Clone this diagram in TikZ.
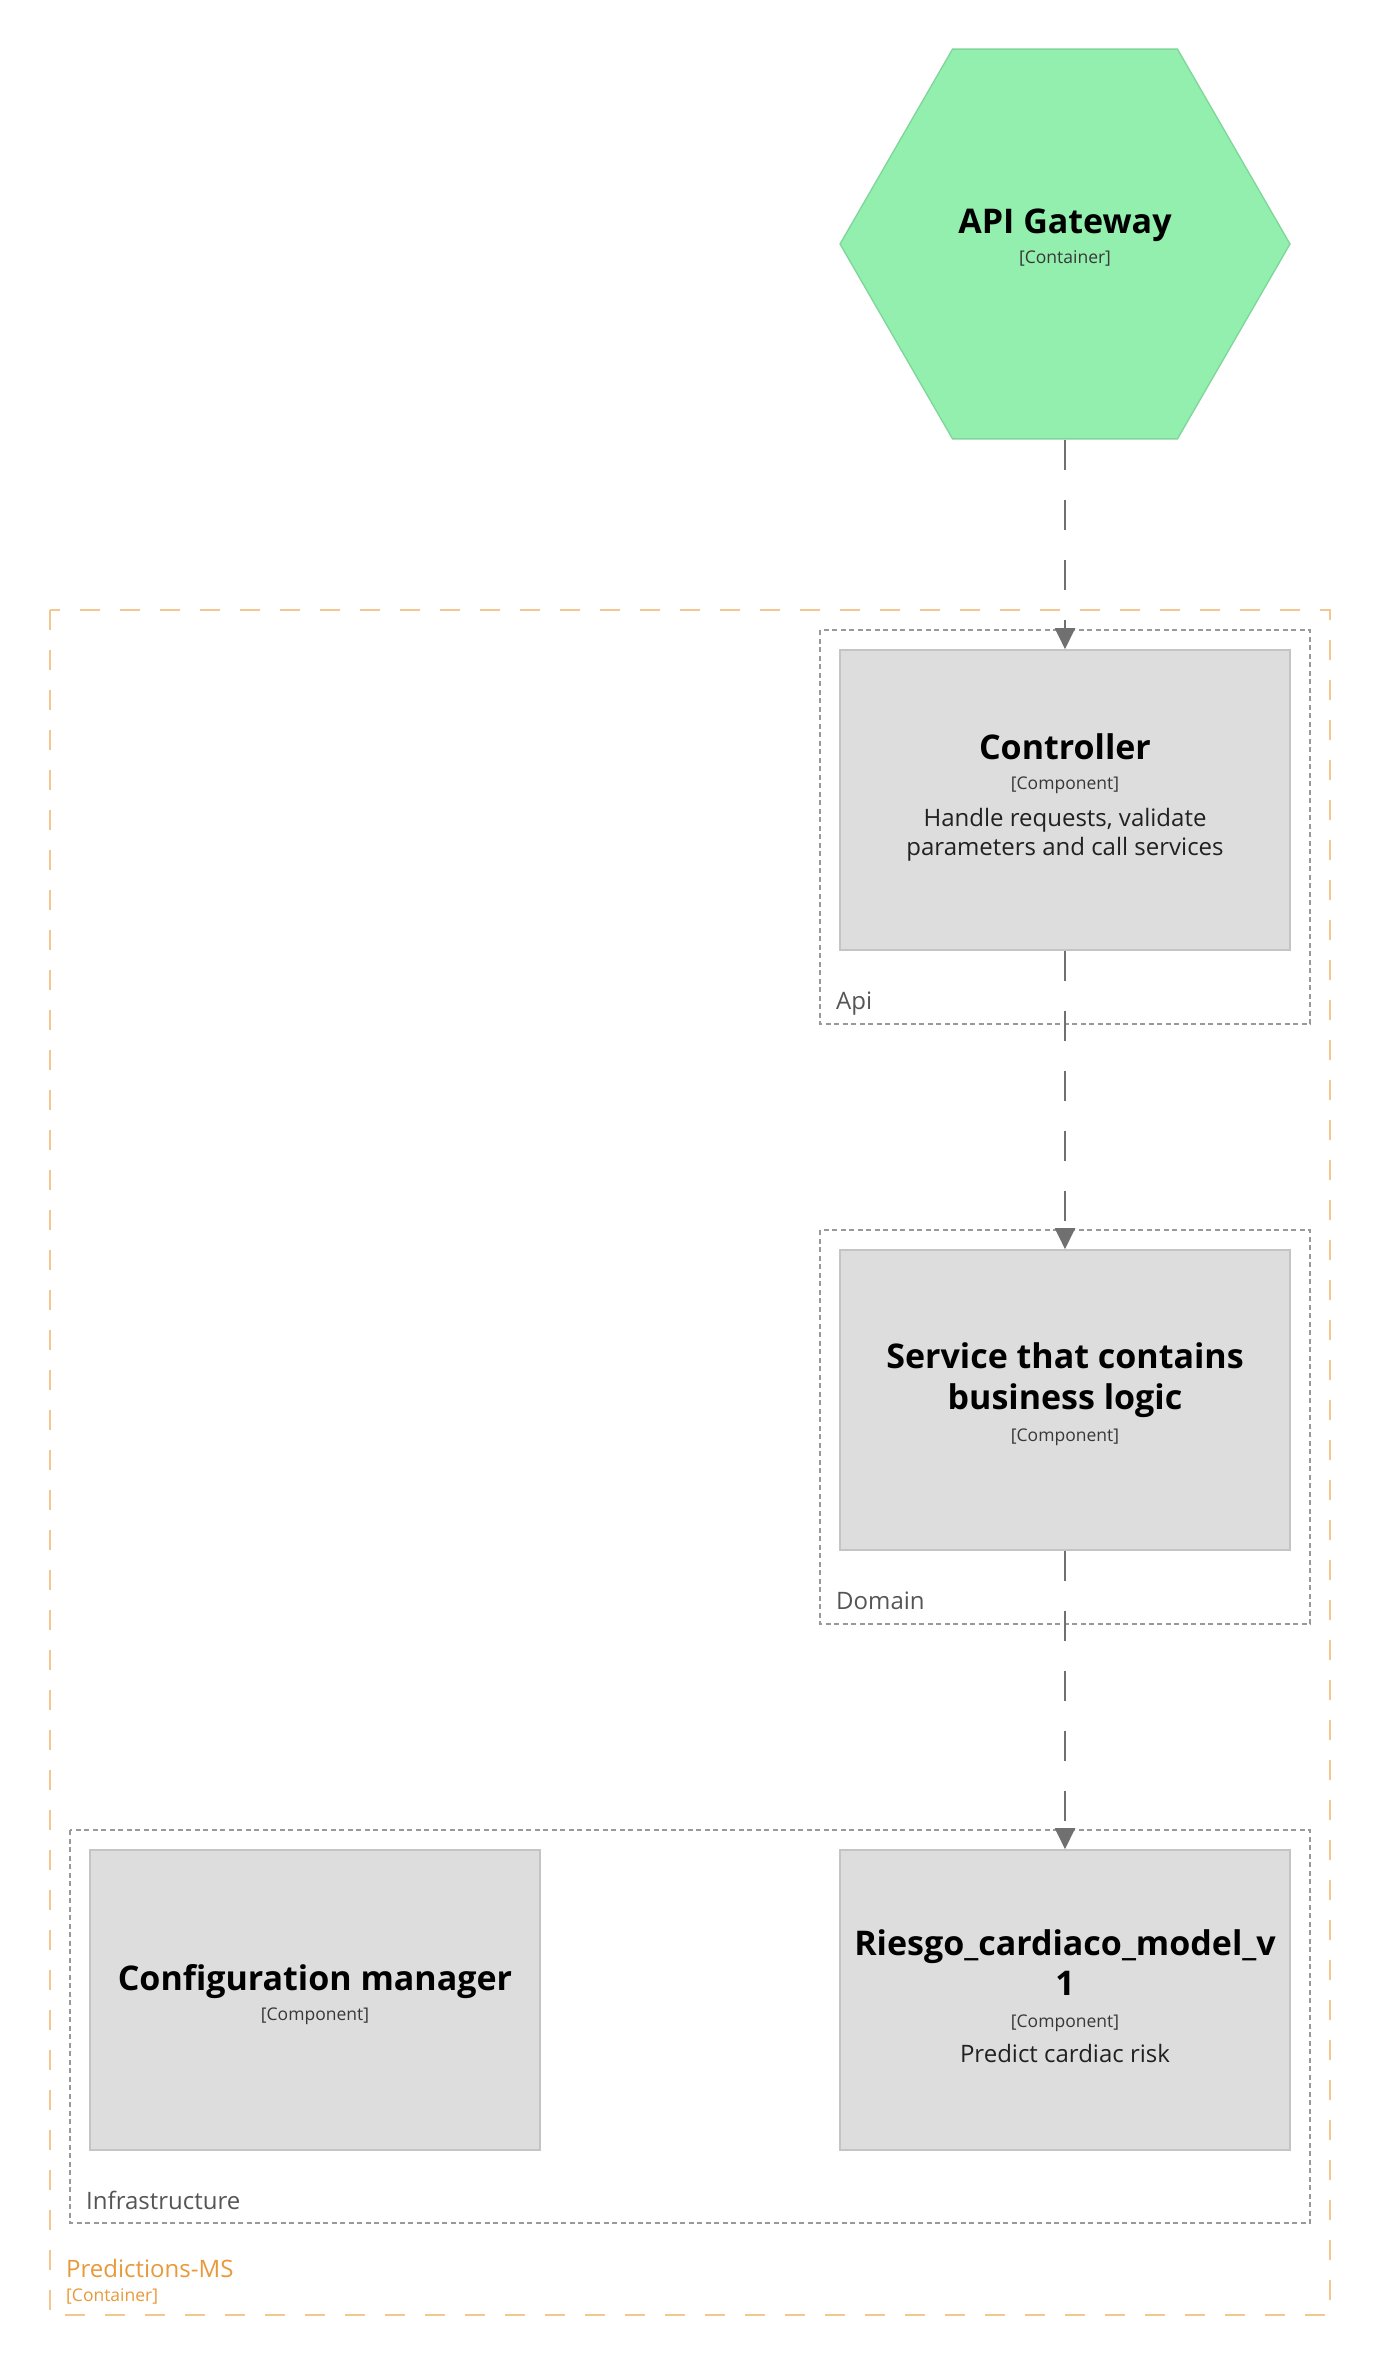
\documentclass[tikz,border=0pt]{standalone}
\usepackage{fontspec}
\setmainfont{Open Sans}
\usetikzlibrary{arrows.meta,shapes.geometric}
\definecolor{hexfill}{HTML}{92EFAE}
\definecolor{hexline}{HTML}{7ED699}
\definecolor{compfill}{HTML}{DDDDDD}
\definecolor{compline}{HTML}{C4C4C4}
\definecolor{grpline}{HTML}{999999}
\definecolor{grptext}{HTML}{555555}
\definecolor{orline}{HTML}{F2C890}
\definecolor{ortext}{HTML}{E8993A}
\definecolor{conn}{HTML}{707070}
\tikzset{
  comp/.style={draw=compline, fill=compfill, line width=1.6pt, minimum width=450pt, minimum height=300pt, inner sep=0pt},
  grp/.style={draw=grpline, line width=1.3pt, dash pattern=on 5pt off 3.5pt},
  titletext/.style={anchor=base, inner sep=0pt, font=\fontsize{34}{40}\selectfont\bfseries, text=black},
  metatext/.style={anchor=base, inner sep=0pt, font=\fontsize{17.5}{22}\selectfont, text=black!78},
  desctext/.style={anchor=base, inner sep=0pt, font=\fontsize{24}{30}\selectfont, text=black!87},
  grplabel/.style={anchor=base west, inner sep=0pt, font=\fontsize{24}{30}\selectfont, text=grptext},
  conarrow/.style={draw=conn, line width=2pt, dash pattern=on 30pt off 30pt, -{Triangle[length=21pt,width=20pt]}}
}
\begin{document}
\begin{tikzpicture}[x=1pt,y=-1pt]
\useasboundingbox (0,0) rectangle (1380,2365);
% outer container
\draw[orline, line width=2pt, dash pattern=on 20pt off 20pt] (50,610) rectangle (1330,2315);
\node[grplabel, text=ortext] (pmsname) at (66,2277) {Predictions-MS};
\node[anchor=base west, inner sep=0pt, font=\fontsize{17.5}{22}\selectfont, text=ortext] (pmsmeta) at (66,2301) {[Container]};
% groups
\draw[grp] (820,630) rectangle (1310,1024);
\node[grplabel] (apilabel) at (836,1009) {Api};
\draw[grp] (820,1230) rectangle (1310,1624);
\node[grplabel] (domlabel) at (836,1609) {Domain};
\draw[grp] (70,1830) rectangle (1310,2223);
\node[grplabel] (inflabel) at (86,2209) {Infrastructure};
% API gateway hexagon
\node[regular polygon, regular polygon sides=6, minimum size=450pt, inner sep=0pt, draw=hexline, fill=hexfill, line width=1.3pt] (gw) at (1065,244) {};
\node[titletext] (gwt) at (1065,234) {API Gateway};
\node[metatext] (gwm) at (1065,264) {[Container]};
% components
\node[comp] (ctrl) at (1065,800) {};
\node[titletext] (ctrlt) at (1065,759) {Controller};
\node[metatext] (ctrlm) at (1065,789) {[Component]};
\node[desctext] (ctrld1) at (1065,826) {Handle requests, validate};
\node[desctext] (ctrld2) at (1065,855) {parameters and call services};

\node[comp] (svc) at (1065,1400) {};
\node[titletext] (svct1) at (1065,1368) {Service that contains};
\node[titletext] (svct2) at (1065,1409) {business logic};
\node[metatext] (svcm) at (1065,1441) {[Component]};

\node[comp] (cfg) at (315,2000) {};
\node[titletext] (cfgt) at (315,1990) {Configuration manager};
\node[metatext] (cfgm) at (315,2020) {[Component]};

\node[comp] (rsk) at (1065,2000) {};
\node[titletext] (rskt1) at (1065,1955) {Riesgo\_cardiaco\_model\_v};
\node[titletext] (rskt2) at (1065,1995) {1};
\node[metatext] (rskm) at (1065,2027) {[Component]};
\node[desctext] (rskd) at (1065,2062) {Predict cardiac risk};
% connectors
\draw[conarrow] (gw.south) -- (ctrl.north);
\draw[conarrow] (ctrl.south) -- (svc.north);
\draw[conarrow] (svc.south) -- (rsk.north);
\end{tikzpicture}
\end{document}
